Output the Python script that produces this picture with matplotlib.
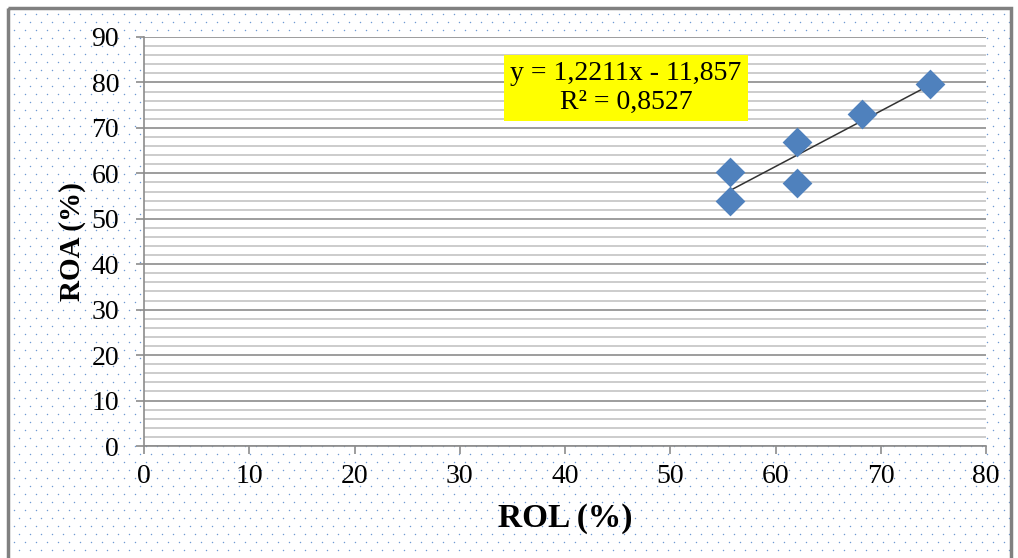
import matplotlib.pyplot as plt
import numpy as np
from matplotlib.patches import Rectangle

# data
rol = [55.7, 55.7, 62.0, 62.0, 68.2, 74.7]
roa = [54.0, 60.2, 66.8, 57.8, 73.0, 79.6]
equation = "y = 1,2211x - 11,857\nR² = 0,8527"

plt.rcParams['font.family'] = ['Liberation Serif', 'DejaVu Serif']

fig = plt.figure(figsize=(10.18, 5.58), dpi=100)

# dotted background + frame
bg = fig.add_axes([0, 0, 1, 1], zorder=-10)
bg.set_xlim(0, 1018)
bg.set_ylim(558, 0)
bg.axis('off')
gx, gy = np.meshgrid(np.arange(14, 1012, 11), np.arange(14, 558, 8))
gx = gx + (np.arange(gx.shape[0])[:, None] % 2) * 5.5
bg.scatter(gx.ravel(), gy.ravel(), s=1.1, color='#6f9ad4', linewidths=0)
bg.add_patch(Rectangle((8, 8), 1003, 560, fill=False, edgecolor='#808080', linewidth=2.5))

ax = fig.add_axes([0.1415, 0.2007, 0.8271, 0.7330])
ax.set_facecolor('white')
ax.set_xlim(0, 80)
ax.set_ylim(0, 90)
ax.set_xticks(range(0, 81, 10))
ax.set_yticks(range(0, 91, 10))
ax.set_yticks(np.arange(0, 91, 2), minor=True)
ax.grid(True, axis='y', which='major', color='#8c8c8c', linewidth=1.2)
ax.grid(True, axis='y', which='minor', color='#c8c8c8', linewidth=1.3)
ax.set_axisbelow(True)
for s in ['top', 'right']:
    ax.spines[s].set_visible(False)
for s in ['left', 'bottom']:
    ax.spines[s].set_color('#8c8c8c')
    ax.spines[s].set_linewidth(1.2)
ax.tick_params(axis='both', which='major', labelsize=20, color='#8c8c8c', length=6, width=1.2)
ax.tick_params(axis='y', which='minor', length=0)
ax.tick_params(axis='y', pad=12)
ax.tick_params(axis='x', pad=7)

# trendline
coef = np.polyfit(rol, roa, 1)
xs = np.array([min(rol), max(rol)])
ax.plot(xs, np.polyval(coef, xs), color='#333333', linewidth=1.1, zorder=3)

ax.scatter(rol, roa, marker='D', s=230, color='#4f81bd', zorder=4, linewidths=0)

ax.text(45.8, 78.8, equation, ha='center', va='center', fontsize=20, linespacing=1.2,
        bbox=dict(boxstyle='square,pad=0.22', facecolor='#ffff00', edgecolor='none'))

ax.set_xlabel("ROL (%)", fontsize=24, fontweight='bold', labelpad=10)
ax.set_ylabel("ROA (%)", fontsize=21, fontweight='bold', labelpad=4)

fig.savefig('out.png', dpi=100)
